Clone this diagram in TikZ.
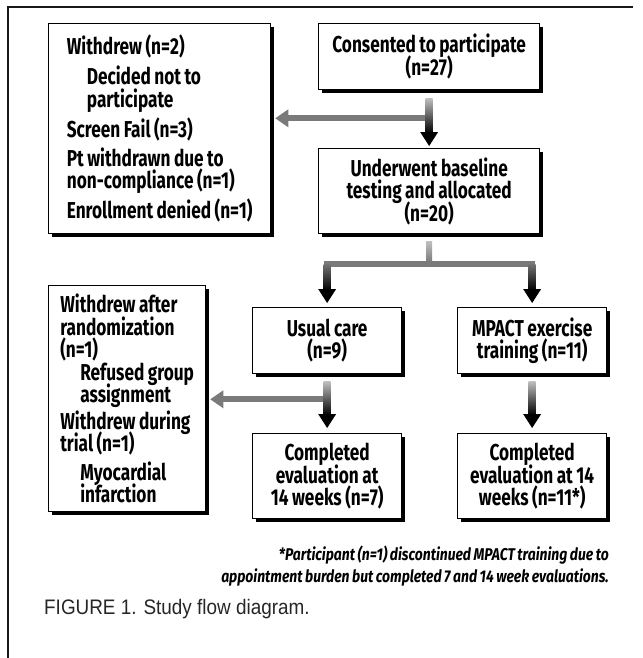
\documentclass[tikz,border=0pt]{standalone}
\usepackage{fontspec}
\setmainfont{Fira Sans}[FakeStretch=0.75, WordSpace=0.85]
\newfontfamily\notefont{Fira Sans}[FakeStretch=0.82, WordSpace=0.8]
\newfontfamily\capfont{Liberation Sans}[FakeStretch=0.9]
\usetikzlibrary{calc,shadows}
\setlength{\lineskiplimit}{-10pt}

\newcommand{\gradarrow}[3][black!25]{%
  \shade[top color=#1, bottom color=black] ($(#2)+(-3.5,0)$) rectangle ($(#3)+(3.5,-13)$);
  \fill[black] ($(#3)+(-9,-14)$) -- ($(#3)+(9,-14)$) -- (#3) -- cycle;}
\newcommand{\grayarrow}[2]{%
  \fill[grayfill] ($(#1)+(0,-3)$) rectangle ($(#2)+(12,3)$);
  \fill[grayfill] ($(#2)+(13,-9)$) -- ($(#2)+(13,9)$) -- (#2) -- cycle;}

\begin{document}
\begin{tikzpicture}[x=1pt,y=-1pt,
  box/.style={draw=black, line width=1.3pt, fill=white,
    drop shadow={shadow xshift=3.5pt, shadow yshift=-3.5pt, opacity=1, fill=black},
    anchor=north west, inner sep=0pt,
    font=\bfseries\fontsize{23}{22.5}\selectfont},
  cbox/.style={box, align=center},
  lbox/.style={box, align=left}]
\tikzset{grayfill/.style={fill=black!52}}

\useasboundingbox (0,0) rectangle (642,658);
\draw[line width=1.6pt, black!90] (633,7) -- (8,7) -- (8,662);

\node[lbox, minimum width=222pt, minimum height=210pt] (withd) at (48,23) {Withdrew (n=2)\\[7.5pt]
\hspace*{20pt}Decided not to\\
\hspace*{20pt}participate\\[7.5pt]
Screen Fail (n=3)\\[6.5pt]
Pt withdrawn due to\\
non-compliance (n=1)\\[7.5pt]
Enrollment denied (n=1)};
\node[cbox, minimum width=221pt, minimum height=66pt] (cons) at (318,23) {Consented to participate\\(n=27)};
\node[cbox, minimum width=221pt, minimum height=85pt] (under) at (318,148) {Underwent baseline\\testing and allocated\\(n=20)};
\node[lbox, minimum width=157pt, minimum height=226pt] (wafter) at (48,285) {Withdrew after\\randomization\\(n=1)\\
\hspace*{20pt}Refused group\\
\hspace*{20pt}assignment\\[4pt]
Withdrew during\\trial (n=1)\\[6pt]
\hspace*{20pt}Myocardial\\
\hspace*{20pt}infarction};
\node[cbox, minimum width=149pt, minimum height=66pt] (usual) at (252,307) {Usual care\\(n=9)};
\node[cbox, minimum width=149pt, minimum height=66pt] (mpact) at (457,307) {MPACT exercise\\training (n=11)};
\node[cbox, minimum width=149pt, minimum height=85pt] (comp1) at (252,433) {Completed\\evaluation at\\14 weeks (n=7)};
\node[cbox, minimum width=149pt, minimum height=85pt] (comp2) at (457,433) {Completed\\evaluation at 14\\weeks (n=11*)};

\coordinate (c1) at ($(cons.south)+(0,8)$);
\coordinate (c2) at ($(under.north)+(0,-2)$);
\coordinate (j1) at ($(cons.south)+(0,28)$);
\coordinate (t1) at ($(j1 -| withd.east)+(4,0)$);
\grayarrow{j1}{t1}
\gradarrow{c1}{c2}

\coordinate (s1) at ($(under.south)+(0,7)$);
\coordinate (j2) at ($(under.south)+(0,30)$);
\coordinate (ju) at (j2 -| usual.north);
\coordinate (jm) at (j2 -| mpact.north);
\coordinate (tu) at ($(usual.north)+(0,-4)$);
\coordinate (tm) at ($(mpact.north)+(0,-4)$);
\shade[top color=black!25, bottom color=black!55] ($(s1)+(-3,0)$) rectangle ($(j2)+(3,0)$);
\fill[grayfill] ($(ju)+(-3,-3)$) rectangle ($(jm)+(3,3)$);
\gradarrow[black!55]{ju}{tu}
\gradarrow[black!55]{jm}{tm}

\coordinate (u1) at ($(usual.south)+(0,7)$);
\coordinate (u2) at ($(comp1.north)+(0,-5)$);
\coordinate (j3) at ($(usual.south)+(0,25)$);
\coordinate (t3) at ($(j3 -| wafter.east)+(4,0)$);
\grayarrow{j3}{t3}
\gradarrow{u1}{u2}

\coordinate (m1) at ($(mpact.south)+(0,7)$);
\coordinate (m2) at ($(comp2.north)+(0,-5)$);
\gradarrow{m1}{m2}

\node[anchor=east, inner sep=0pt, align=right, font=\notefont\bfseries\itshape\fontsize{17}{22}\selectfont] (note) at (609,566) {*Participant (n=1) discontinued MPACT training due to\\appointment burden but completed 7 and 14 week evaluations.};
\node[anchor=west, inner sep=0pt, text=black!85, font=\capfont\fontsize{21}{22}\selectfont] (caption) at (44,609) {FIGURE 1. Study flow diagram.};
\end{tikzpicture}
\end{document}
